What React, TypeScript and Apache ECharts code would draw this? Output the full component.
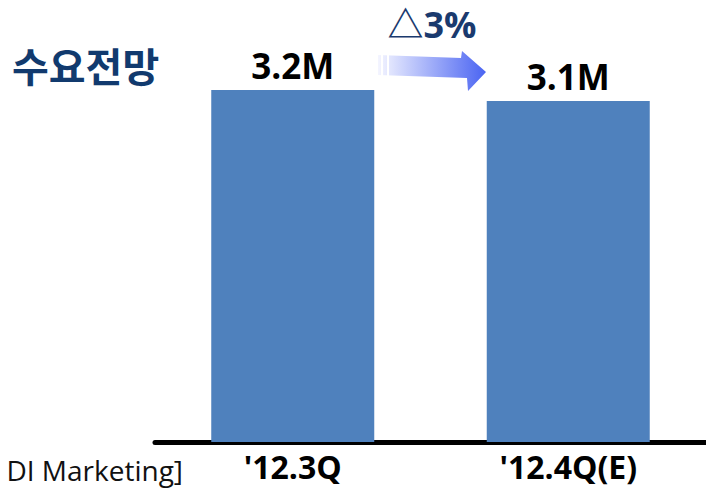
import React, { useEffect, useRef } from "react";
import * as echarts from "echarts";

const categories = ["'12.3Q", "'12.4Q(E)"];
const demand = [3.2, 3.1];
const unitSuffix = "M";
const titleText = "수요전망";
const changeText = "△3%";
const sourceText = "DI Marketing]";

export default function App() {
  const ref = useRef<HTMLDivElement>(null);
  useEffect(() => {
    if (!ref.current) return;
    const chart = echarts.init(ref.current, null, { renderer: "svg" });
    const font = "'Open Sans', 'Noto Sans CJK KR', sans-serif";
    chart.setOption({
      animation: false,
      grid: { left: 155, right: -3, top: 2, bottom: 47, containLabel: false },
      xAxis: {
        type: "category",
        data: categories,
        offset: 2.5,
        axisTick: { show: false },
        axisLine: { lineStyle: { color: "#000", width: 5 } },
        axisLabel: {
          fontFamily: font,
          fontSize: 32,
          fontWeight: "bold",
          color: "#000",
          margin: 7,
          lineHeight: 30,
        },
      },
      yAxis: { type: "value", min: 0, max: 4, show: false },
      series: [
        {
          type: "bar",
          data: demand,
          barWidth: 163,
          itemStyle: { color: "#4F81BD" },
          label: {
            show: true,
            position: "top",
            distance: 7,
            formatter: (p: any) => `${p.value}${unitSuffix}`,
            fontFamily: font,
            fontSize: 35,
            fontWeight: "bold",
            color: "#000",
            lineHeight: 35,
          },
        },
      ],
      graphic: [
        {
          type: "text",
          x: 12,
          y: 65,
          style: {
            text: titleText,
            fontFamily: "'Noto Sans CJK KR', sans-serif",
            fontSize: 40,
            fontWeight: "bold",
            fill: "#113A6E",
            align: "left",
            verticalAlign: "middle",
          },
        },
        {
          type: "text",
          x: 432,
          y: 24,
          style: {
            text: changeText,
            fontFamily: font,
            fontSize: 36,
            fontWeight: "bold",
            fill: "#1A3A6E",
            align: "center",
            verticalAlign: "middle",
          },
        },
        {
          type: "polygon",
          shape: {
            points: [
              [378, 55],
              [461, 58],
              [462, 51],
              [486, 72],
              [468, 91],
              [467, 78],
              [378, 75],
            ],
          },
          style: {
            fill: new echarts.graphic.LinearGradient(0, 0, 1, 0, [
              { offset: 0, color: "#F4F5FF" },
              { offset: 1, color: "#4A64F2" },
            ]),
          },
        },
        { type: "rect", shape: { x: 381, y: 50, width: 2, height: 30 }, style: { fill: "#fff" } },
        { type: "rect", shape: { x: 387, y: 50, width: 2, height: 30 }, style: { fill: "#fff" } },
        {
          type: "text",
          x: 183,
          y: 470,
          style: {
            text: sourceText,
            fontFamily: font,
            fontSize: 28,
            lineHeight: 28,
            fill: "#111",
            align: "right",
            verticalAlign: "middle",
          },
        },
      ],
    });
    return () => chart.dispose();
  }, []);
  return (
    <div
      ref={ref}
      style={{ position: "absolute", left: 0, top: 0, width: 706, height: 489, background: "#fff" }}
    />
  );
}
